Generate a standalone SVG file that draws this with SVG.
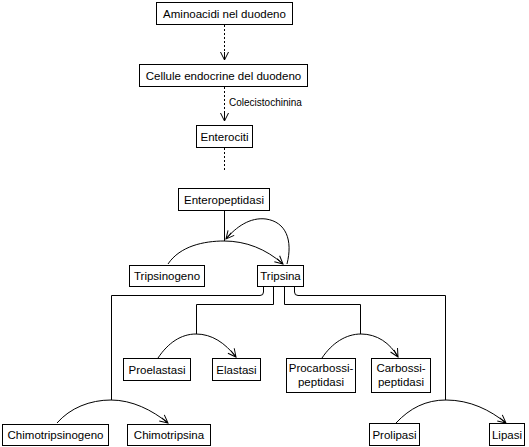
<svg xmlns="http://www.w3.org/2000/svg" width="529" height="447" viewBox="0 0 529 447">
<defs>
<style>
.box{fill:#fff;stroke:#000;stroke-width:1}
.t{font-family:"Liberation Sans",Arial,sans-serif;font-size:11.5px;fill:#000;text-anchor:middle}
.s{font-family:"Liberation Sans",Arial,sans-serif;font-size:10px;fill:#000}
.ln{fill:none;stroke:#000;stroke-width:1}
.dot{fill:none;stroke:#000;stroke-width:1;stroke-dasharray:2,2}
</style>
<marker id="ah" markerUnits="userSpaceOnUse" markerWidth="12" markerHeight="12" viewBox="-10 -6 12 12" refX="0" refY="0" orient="auto">
<path d="M-8,-4 L0,0 L-8,4 M-8,0 L0,0" fill="none" stroke="#000" stroke-width="1"/>
</marker>
</defs>
<rect width="529" height="447" fill="#fff"/>
<g id="connectors">
<line class="dot" x1="224.5" y1="25" x2="224.5" y2="60" marker-end="url(#ah)"/>
<line class="dot" x1="224.5" y1="87" x2="224.5" y2="121" marker-end="url(#ah)"/>
<text class="s" x="229" y="106">Colecistochinina</text>
<line class="dot" x1="224.5" y1="148" x2="224.5" y2="170"/>
<line class="ln" x1="224.5" y1="211" x2="224.5" y2="241"/>
<path class="ln" d="M168,264 C180,246 204,241 224,241 C246,241 266,249 283,264" marker-end="url(#ah)"/>
<path class="ln" d="M287,264 C293,240 286,222 266,219 C250,217 236,227 226,239" marker-end="url(#ah)"/>
<path class="ln" d="M263.5,287 L263.5,292 Q263.5,295.5 260,295.5 L111.5,295.5 L111.5,400"/>
<path class="ln" d="M273.5,287 L273.5,304.5 L196.5,304.5 L196.5,334"/>
<path class="ln" d="M284.5,287 L284.5,304.5 L360.5,304.5 L360.5,334"/>
<path class="ln" d="M294.5,287 L294.5,292 Q294.5,295.5 298,295.5 L445.5,295.5 L445.5,400"/>
<path class="ln" d="M158,358 C168,343 181,334 196,334 C212,334 225,343 236,357" marker-end="url(#ah)"/>
<path class="ln" d="M322,358 C332,343 346,334 361,334 C377,334 390,343 398,357" marker-end="url(#ah)"/>
<path class="ln" d="M57,423 C70,408 90,400 111,400 C132,400 152,410 168,423" marker-end="url(#ah)"/>
<path class="ln" d="M396,423 C410,408 426,400 446,400 C470,400 490,410 506,423" marker-end="url(#ah)"/>
</g>
<g id="n1"><rect class="box" x="156.5" y="2.5" width="136" height="22"/><text class="t" x="224.5" y="18">Aminoacidi nel duodeno</text></g>
<g id="n2"><rect class="box" x="139.5" y="64.5" width="168" height="22"/><text class="t" x="223.5" y="80">Cellule endocrine del duodeno</text></g>
<g id="n3"><rect class="box" x="196.5" y="125.5" width="56" height="22"/><text class="t" x="224.5" y="141">Enterociti</text></g>
<g id="n4"><rect class="box" x="178.5" y="188.5" width="91" height="22"/><text class="t" x="224" y="204">Enteropeptidasi</text></g>
<g id="n5"><rect class="box" x="129.5" y="265.5" width="75" height="21"/><text class="t" x="167" y="280">Tripsinogeno</text></g>
<g id="n6"><rect class="box" x="257.5" y="265.5" width="46" height="21"/><text class="t" x="280.5" y="280">Tripsina</text></g>
<g id="n7"><rect class="box" x="123.5" y="358.5" width="67" height="22"/><text class="t" x="157" y="374">Proelastasi</text></g>
<g id="n8"><rect class="box" x="212.5" y="358.5" width="48" height="22"/><text class="t" x="236.5" y="374">Elastasi</text></g>
<g id="n9"><rect class="box" x="286.5" y="358.5" width="69" height="34"/><text class="t" x="321" y="372">Procarbossi-</text><text class="t" x="321" y="386">peptidasi</text></g>
<g id="n10"><rect class="box" x="371.5" y="358.5" width="59" height="34"/><text class="t" x="401" y="372">Carbossi-</text><text class="t" x="401" y="386">peptidasi</text></g>
<g id="n11"><rect class="box" x="2.5" y="424.5" width="106" height="21"/><text class="t" x="55.5" y="439">Chimotripsinogeno</text></g>
<g id="n12"><rect class="box" x="127.5" y="424.5" width="83" height="21"/><text class="t" x="169" y="439">Chimotripsina</text></g>
<g id="n13"><rect class="box" x="369.5" y="423.5" width="50" height="22"/><text class="t" x="394.5" y="439">Prolipasi</text></g>
<g id="n14"><rect class="box" x="489.5" y="423.5" width="35" height="22"/><text class="t" x="507" y="439">Lipasi</text></g>
</svg>
